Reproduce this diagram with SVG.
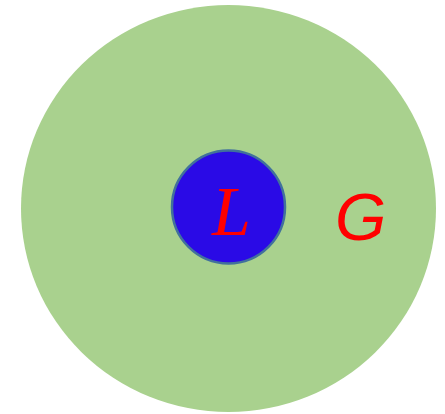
<svg xmlns="http://www.w3.org/2000/svg" width="445" height="414" viewBox="0 0 445 414">
<style>
.lbl{fill:#FF0000;font-style:italic}
</style>
<rect width="445" height="414" fill="#FFFFFF"/>
<g id="G">
<ellipse cx="228.5" cy="208.5" rx="207.5" ry="203.5" fill="#A9D18E"/>
<text class="lbl" x="335" y="240" font-family="'Liberation Sans', sans-serif" font-size="66">G</text>
</g>
<g id="L">
<circle cx="228.5" cy="207" r="56.5" fill="#2A0AE6" stroke="#41719C" stroke-width="2.5"/>
<text class="lbl" x="212" y="235" font-family="'Liberation Serif', serif" font-size="70">L</text>
</g>
<g id="connectors"/>
</svg>
